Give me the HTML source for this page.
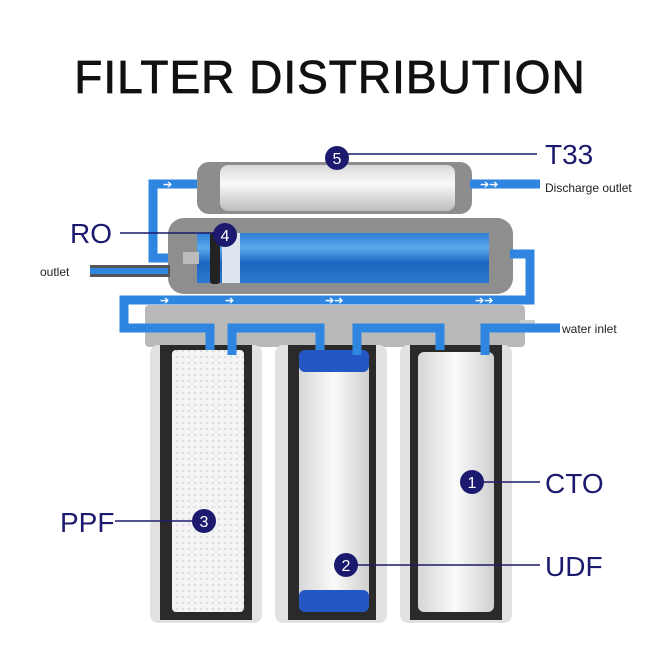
<!DOCTYPE html>
<html><head><style>
body{margin:0;background:#fff}
svg{display:block}
text{font-family:"Liberation Sans",sans-serif}
</style></head><body>
<svg width="650" height="650" viewBox="0 0 650 650">
<defs>
<linearGradient id="wc" x1="0" y1="0" x2="0" y2="1"><stop offset="0" stop-color="#d8d8d8"/><stop offset=".4" stop-color="#fafafa"/><stop offset="1" stop-color="#bdbdbd"/></linearGradient>
<linearGradient id="bl" x1="0" y1="0" x2="0" y2="1"><stop offset="0" stop-color="#2f7fd6"/><stop offset=".3" stop-color="#5aa8ec"/><stop offset=".6" stop-color="#1d66c0"/><stop offset="1" stop-color="#2c78d0"/></linearGradient>
<linearGradient id="cw" x1="0" y1="0" x2="1" y2="0"><stop offset="0" stop-color="#d6d6d6"/><stop offset=".5" stop-color="#fafafa"/><stop offset="1" stop-color="#cfcfcf"/></linearGradient>
<pattern id="pl" width="6" height="6" patternUnits="userSpaceOnUse"><rect width="6" height="6" fill="#f4f4f4"/><circle cx="3" cy="3" r="1.2" fill="#dcdcdc"/></pattern>
</defs>
<text x="330" y="93" font-size="46" text-anchor="middle" fill="#111" stroke="#111" stroke-width="0.8" letter-spacing="1">FILTER DISTRIBUTION</text>

<rect x="197" y="162" width="275" height="52" rx="12" fill="#8d8d8d"/>
<rect x="220" y="165" width="235" height="46" rx="8" fill="url(#wc)"/>
<rect x="168" y="218" width="345" height="76" rx="16" fill="#8e8e8e"/>
<rect x="197" y="233" width="292" height="50" fill="url(#bl)"/>
<rect x="210" y="232" width="10" height="52" rx="3" fill="#222"/>
<rect x="222" y="233" width="18" height="50" fill="#dde6ee"/>
<rect x="183" y="252" width="16" height="12" fill="#bbb"/>
<rect x="90" y="265" width="80" height="12" fill="#555"/>
<rect x="145" y="305" width="380" height="42" rx="4" fill="#b9b9b9"/>
<rect x="520" y="320" width="15" height="12" fill="#ccc"/>
<rect x="150" y="345" width="112" height="278" rx="8" fill="#e2e2e2"/>
<rect x="160" y="345" width="92" height="275" fill="#2a2a2a"/>
<rect x="172" y="350" width="72" height="262" rx="4" fill="url(#pl)"/>
<rect x="275" y="345" width="112" height="278" rx="8" fill="#e2e2e2"/>
<rect x="288" y="345" width="88" height="275" fill="#2a2a2a"/>
<rect x="299" y="352" width="70" height="258" rx="4" fill="url(#cw)"/>
<rect x="299" y="350" width="70" height="22" rx="6" fill="#2557c4"/>
<rect x="299" y="590" width="70" height="22" rx="6" fill="#2557c4"/>
<rect x="400" y="345" width="112" height="278" rx="8" fill="#e2e2e2"/>
<rect x="410" y="345" width="92" height="275" fill="#2a2a2a"/>
<rect x="418" y="352" width="76" height="260" rx="6" fill="url(#cw)"/>

<g fill="none" stroke="#2f86e0" stroke-width="9">
<path d="M197 184 H153 V258 H168"/>
<path d="M90 271 H168" stroke-width="6"/>
<path d="M470 184 H540"/>
<path d="M510 254 H530 V300 H124 V328 H210 V350"/>
<path d="M232 355 V328 H320 V350"/>
<path d="M357 355 V328 H440 V350"/>
<path d="M485 355 V328 H560"/>
</g>
<g fill="#fff" font-size="11">
<text x="163" y="188">➔</text><text x="480" y="188">➔➔</text>
<text x="160" y="304">➔</text><text x="225" y="304">➔</text><text x="325" y="304">➔➔</text><text x="475" y="304">➔➔</text>
</g>

<g stroke="#1c1a6e" stroke-width="1.5">
<line x1="345" y1="154" x2="537" y2="154"/>
<line x1="120" y1="233" x2="218" y2="233"/>
<line x1="480" y1="482" x2="540" y2="482"/>
<line x1="354" y1="565" x2="540" y2="565"/>
<line x1="115" y1="521" x2="200" y2="521"/>
</g>
<g fill="#1c1a6e">
<circle cx="337" cy="158" r="12"/><circle cx="225" cy="235" r="12"/>
<circle cx="472" cy="482" r="12"/><circle cx="346" cy="565" r="12"/><circle cx="204" cy="521" r="12"/>
</g>
<g fill="#fff" font-size="16" text-anchor="middle">
<text x="337" y="164">5</text><text x="225" y="241">4</text><text x="472" y="488">1</text><text x="346" y="571">2</text><text x="204" y="527">3</text>
</g>
<g fill="#1c1a6e" font-size="28">
<text x="545" y="164">T33</text><text x="70" y="243">RO</text>
<text x="545" y="493">CTO</text><text x="545" y="576">UDF</text><text x="60" y="532">PPF</text>
</g>
<g fill="#222" font-size="12">
<text x="545" y="192">Discharge outlet</text>
<text x="40" y="276">outlet</text>
<text x="562" y="333">water inlet</text>
</g>
</svg>
</body></html>
